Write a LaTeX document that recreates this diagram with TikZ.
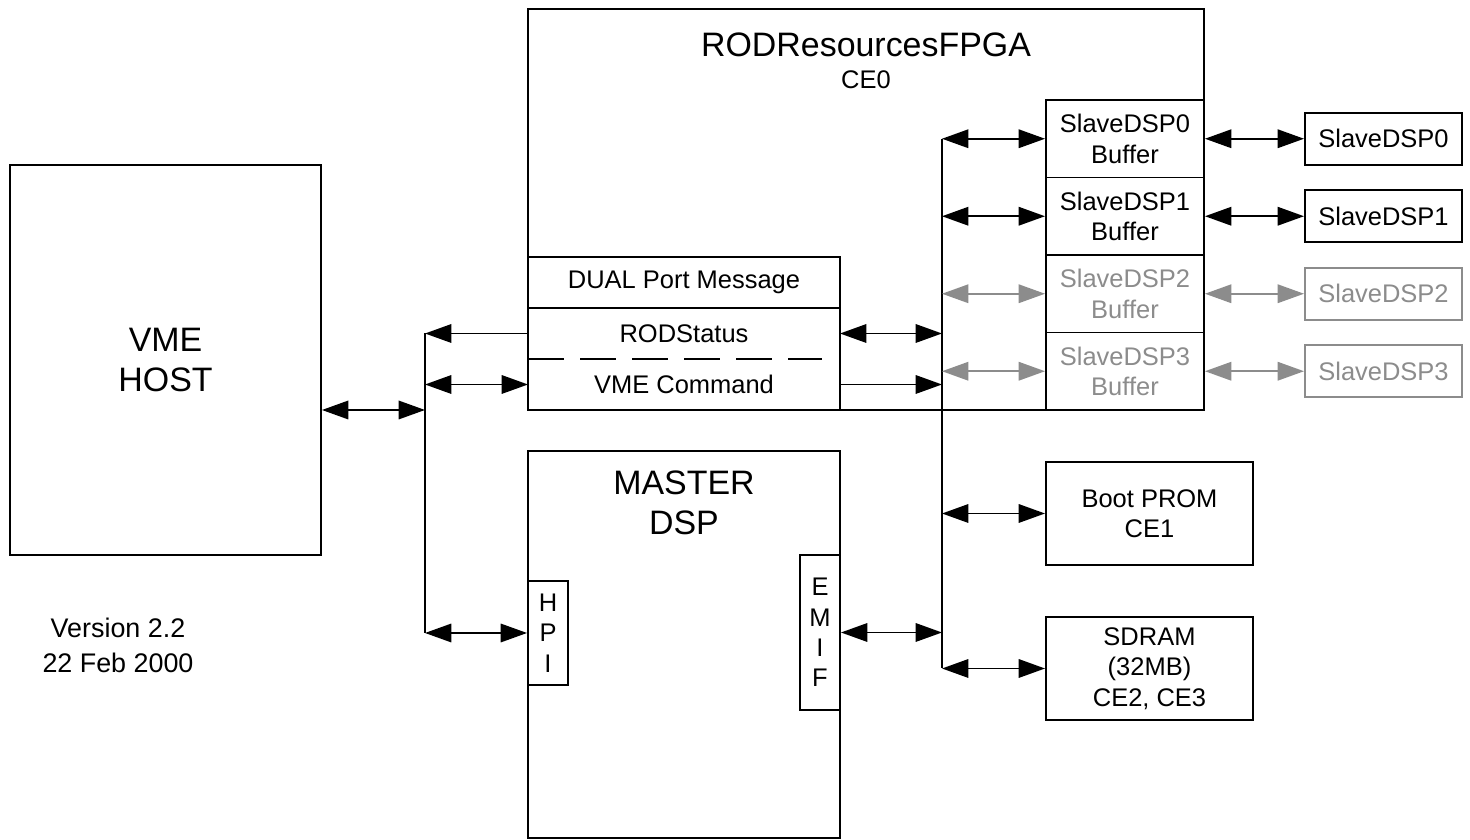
\documentclass[tikz,border=0pt]{standalone}
\usepackage{fontspec}
\setmainfont{Liberation Sans}
\usetikzlibrary{arrows.meta}

\definecolor{offgray}{HTML}{8C8C8C}
\newcommand{\rodsmall}{\fontsize{14.5}{17.3}\selectfont}
\newcommand{\rodbig}{\fontsize{19.3}{22.7}\selectfont}

\begin{document}
\begin{tikzpicture}[>={Triangle[length=15pt,width=10.5pt]}, line width=1.1pt, font=\rodsmall,
    blk/.style={draw, inner sep=0pt, align=center}]
    \useasboundingbox (0,0) rectangle (29.4,16.8);

    % ── VME host (izquierda) ─────────────────────────────────────────
    \node[blk, minimum width=6.22cm, minimum height=7.8cm, font=\rodbig] (host) at (3.31,9.6) {VME\\HOST};
    \coordinate (hostport) at ([yshift=-1cm]host.east);
    \node[align=center, font=\fontsize{15.3}{19.8}\selectfont] (version) at (2.36,3.89)
          {Version 2.2\\22 Feb 2000};

    % ── RODResourcesFPGA ──────────────────────────────────────────────
    \node[blk, minimum width=13.52cm, minimum height=8.02cm] (fpga) at (17.32,12.61) {};
    \node[font=\rodbig] (fpgatitle) at (17.32,15.9) {RODResourcesFPGA};
    \node (ce0) at (17.32,15.2) {CE0};

    \node[blk, minimum width=6.24cm, minimum height=1.02cm] (dpm) at (13.68,11.15) {DUAL Port Message};
    \node[inner sep=0pt, outer sep=0pt, minimum width=6.24cm, minimum height=1.02cm] (rodstat) at (13.68,10.13) {RODStatus};
    \node[inner sep=0pt, outer sep=0pt, minimum width=6.24cm, minimum height=1.02cm] (vmecmd) at (13.68,9.11) {VME Command};
    \draw (rodstat.north west) rectangle (vmecmd.south east);
    \draw[dash pattern=on 0.72cm off 0.32cm] (rodstat.south west) -- ++(5.88,0);

    \node[blk, minimum width=3.16cm, minimum height=1.55cm] (buf0) at (22.5,14.025) {SlaveDSP0\\Buffer};
    \node[blk, minimum width=3.16cm, minimum height=1.55cm] (buf1) at (22.5,12.475) {SlaveDSP1\\Buffer};
    \node[blk, minimum width=3.16cm, minimum height=1.55cm, text=offgray] (buf2) at (22.5,10.925) {SlaveDSP2\\Buffer};
    \node[blk, minimum width=3.16cm, minimum height=1.55cm, text=offgray] (buf3) at (22.5,9.375) {SlaveDSP3\\Buffer};

    % ── Slave DSPs (derecha) ──────────────────────────────────────────
    \node[blk, minimum width=3.14cm, minimum height=1.04cm] (slv0) at (27.67,14.025) {SlaveDSP0};
    \node[blk, minimum width=3.14cm, minimum height=1.04cm] (slv1) at (27.67,12.475) {SlaveDSP1};
    \node[blk, minimum width=3.14cm, minimum height=1.04cm, offgray] (slv2) at (27.67,10.925) {SlaveDSP2};
    \node[blk, minimum width=3.14cm, minimum height=1.04cm, offgray] (slv3) at (27.67,9.375) {SlaveDSP3};

    % ── Memorias ──────────────────────────────────────────────────────
    \node[blk, minimum width=4.14cm, minimum height=2.06cm] (prom) at (22.99,6.53) {Boot PROM\\CE1};
    \node[blk, minimum width=4.14cm, minimum height=2.06cm] (sdram) at (22.99,3.43) {SDRAM\\(32MB)\\CE2, CE3};

    % ── Master DSP ────────────────────────────────────────────────────
    \node[blk, minimum width=6.24cm, minimum height=7.74cm] (master) at (13.68,3.91) {};
    \node[align=center, font=\rodbig] (mastertxt) at (13.68,6.74) {MASTER\\DSP};
    \node[blk, minimum width=0.8cm, minimum height=2.08cm] (hpi) at (10.96,4.14) {H\\P\\I};
    \node[blk, minimum width=0.8cm, minimum height=3.1cm] (emif) at (16.4,4.15) {E\\M\\I\\F};

    % ── Buses ─────────────────────────────────────────────────────────
    \coordinate (lbtop) at (8.5,10.13);
    \coordinate (lbbot) at (8.5,4.14);
    \coordinate (rbtop) at (18.84,14.025);
    \coordinate (rbbot) at (18.84,3.43);
    \draw (lbtop) -- (lbbot);
    \draw (rbtop) -- (rbbot);

    \draw[<->] (hostport) -- (hostport -| lbtop);
    \draw[->] (rodstat.west) -- (rodstat.west -| lbtop);
    \draw[<->] (vmecmd.west -| lbtop) -- (vmecmd.west);
    \draw[<->] (hpi.west -| lbtop) -- (hpi.west);

    \draw[<->] (rodstat.east) -- (rodstat.east -| rbtop);
    \draw[->] (vmecmd.east) -- (vmecmd.east -| rbtop);
    \draw[<->] (emif.east) -- (emif.east -| rbtop);
    \draw[<->] (buf0.west -| rbtop) -- (buf0.west);
    \draw[<->] (buf1.west -| rbtop) -- (buf1.west);
    \draw[<->, offgray] (buf2.west -| rbtop) -- (buf2.west);
    \draw[<->, offgray] (buf3.west -| rbtop) -- (buf3.west);
    \draw[<->] (prom.west -| rbtop) -- (prom.west);
    \draw[<->] (sdram.west -| rbtop) -- (sdram.west);

    \draw[<->] (buf0.east) -- (slv0.west);
    \draw[<->] (buf1.east) -- (slv1.west);
    \draw[<->, offgray] (buf2.east) -- (slv2.west);
    \draw[<->, offgray] (buf3.east) -- (slv3.west);
  \end{tikzpicture}
\end{document}
